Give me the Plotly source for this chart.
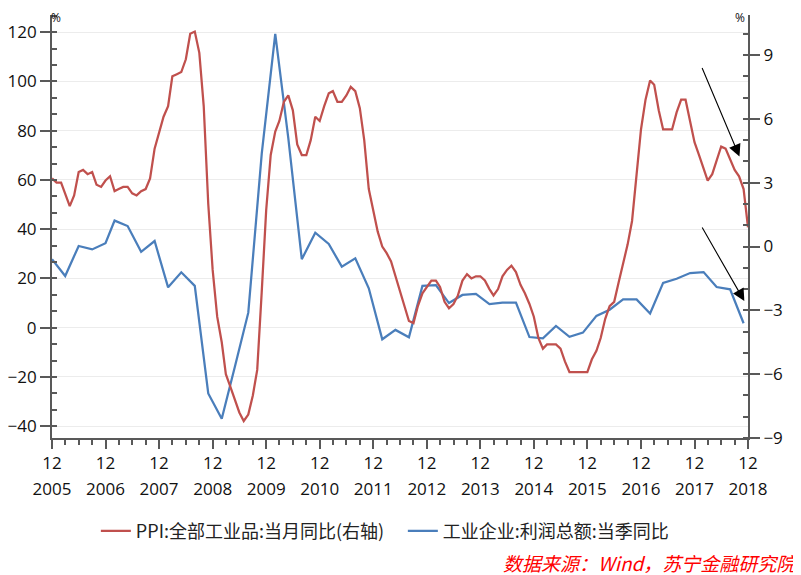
import plotly.graph_objects as go
import pandas as pd

# ---------------- data ----------------
ppi_start = "2005-12-01"
ppi_end = "2018-12-01"
ppi_months = pd.date_range(ppi_start, ppi_end, freq="MS")
ppi_values = [
    3.2,
    3.0, 3.0, 2.5, 1.9, 2.4, 3.5, 3.6, 3.4, 3.5, 2.9, 2.8, 3.1,            # 2006
    3.3, 2.6, 2.7, 2.8, 2.8, 2.5, 2.4, 2.6, 2.7, 3.2, 4.6, 5.4,            # 2007
    6.1, 6.6, 8.0, 8.1, 8.2, 8.8, 10.0, 10.1, 9.1, 6.6, 2.0, -1.1,         # 2008
    -3.3, -4.5, -6.0, -6.6, -7.2, -7.8, -8.2, -7.9, -7.0, -5.8, -2.1, 1.7, # 2009
    4.3, 5.4, 5.9, 6.8, 7.1, 6.4, 4.8, 4.3, 4.3, 5.0, 6.1, 5.9,            # 2010
    6.6, 7.2, 7.3, 6.8, 6.8, 7.1, 7.5, 7.3, 6.5, 5.0, 2.7, 1.7,            # 2011
    0.7, 0.0, -0.3, -0.7, -1.4, -2.1, -2.9, -3.5, -3.6, -2.8, -2.2, -1.9,  # 2012
    -1.6, -1.6, -1.9, -2.6, -2.9, -2.7, -2.3, -1.6, -1.3, -1.5, -1.4, -1.4,# 2013
    -1.6, -2.0, -2.3, -2.0, -1.4, -1.1, -0.9, -1.2, -1.8, -2.2, -2.7, -3.3,# 2014
    -4.3, -4.8, -4.6, -4.6, -4.6, -4.8, -5.4, -5.9, -5.9, -5.9, -5.9, -5.9,# 2015
    -5.3, -4.9, -4.3, -3.4, -2.8, -2.6, -1.7, -0.8, 0.1, 1.2, 3.3, 5.5,    # 2016
    6.9, 7.8, 7.6, 6.4, 5.5, 5.5, 5.5, 6.3, 6.9, 6.9, 5.8, 4.9,            # 2017
    4.3, 3.7, 3.1, 3.4, 4.1, 4.7, 4.6, 4.1, 3.6, 3.3, 2.7, 0.9,            # 2018
]

profit_dates = [
    "2005-12-01", "2006-03-01", "2006-06-01", "2006-09-01", "2006-12-01",
    "2007-02-01", "2007-05-01", "2007-08-01", "2007-11-01",
    "2008-02-01", "2008-05-01", "2008-08-01", "2008-11-01",
    "2009-02-01", "2009-05-01", "2009-08-01", "2009-11-01",
    "2010-02-01", "2010-05-01", "2010-08-01", "2010-11-01",
    "2011-02-01", "2011-05-01", "2011-08-01", "2011-11-01",
    "2012-02-01", "2012-05-01", "2012-08-01", "2012-11-01",
    "2013-02-01", "2013-05-01", "2013-08-01", "2013-11-01",
    "2014-02-01", "2014-05-01", "2014-08-01", "2014-11-01",
    "2015-02-01", "2015-05-01", "2015-08-01", "2015-11-01",
    "2016-02-01", "2016-05-01", "2016-08-01", "2016-11-01",
    "2017-02-01", "2017-05-01", "2017-08-01", "2017-11-01",
    "2018-02-01", "2018-05-01", "2018-08-01", "2018-11-01",
]
profit_values = [
    27.8, 21.0, 33.2, 31.8, 34.3,
    43.5, 41.3, 30.8, 35.2,
    16.4, 22.5, 17.0, -26.7,
    -37.0, -16.0, 6.1, 70.8,
    119.3, 77.0, 27.8, 38.6,
    34.0, 24.8, 28.2, 16.0,
    -4.7, -0.9, -3.9, 17.0,
    17.3, 10.0, 13.3, 13.7,
    9.6, 10.2, 10.2, -3.8,
    -4.3, 0.7, -3.7, -2.0,
    4.8, 7.3, 11.5, 11.5,
    5.8, 18.2, 19.9, 22.2,
    22.6, 16.5, 15.6, 1.8,
]

ppi_name = "PPI:全部工业品:当月同比(右轴)"
profit_name = "工业企业:利润总额:当季同比"

left_ticks = [-40, -20, 0, 20, 40, 60, 80, 100, 120]
right_ticks = [-9, -6, -3, 0, 3, 6, 9]
left_range = [-44.8, 127.0]
right_range = [-9.0, 10.88]

source_text = "数据来源：Wind，苏宁金融研究院"

# ---------------- figure ----------------
axis_color = "#595959"
tick_font = dict(family="Open Sans", size=17, color="#111111")
red = "#c0504d"
blue = "#4a7ebb"

fig = go.Figure()
fig.add_trace(go.Scatter(
    x=ppi_months, y=ppi_values, name=ppi_name, mode="lines",
    line=dict(color=red, width=2.25), xaxis="x2", yaxis="y2",
))
fig.add_trace(go.Scatter(
    x=profit_dates, y=profit_values, name=profit_name, mode="lines",
    line=dict(color=blue, width=2.25),
))

fig.update_layout(
    width=801, height=575,
    margin=dict(l=44, r=61, t=7, b=145, autoexpand=False),
    paper_bgcolor="white", plot_bgcolor="white",
    showlegend=True,
    legend=dict(
        orientation="h", x=0.063, xanchor="left", y=-0.22, yanchor="middle",
        entrywidth=262, entrywidthmode="pixels",
        font=dict(family="Noto Sans CJK SC", size=18, color="#222222"),
        bgcolor="rgba(0,0,0,0)",
    ),
    xaxis=dict(
        type="date", range=[ppi_start, ppi_end], automargin=False,
        tick0=ppi_start, dtick="M12", tickformat="%m",
        ticks="outside", ticklen=9, tickwidth=1.5, tickcolor=axis_color,
        showline=True, linecolor=axis_color, linewidth=2,
        showgrid=False, zeroline=False, tickfont=tick_font,
        minor=dict(dtick="M3", tick0=ppi_start, ticks="outside", ticklen=5,
                   tickwidth=1.5, tickcolor=axis_color, showgrid=False),
    ),
    xaxis2=dict(
        type="date", range=[ppi_start, ppi_end], overlaying="x", anchor="y2",
        side="bottom", tick0=ppi_start, dtick="M12", tickformat="%Y",
        ticks="", showline=False, showgrid=False, zeroline=False,
        tickfont=tick_font, ticklabelstandoff=39, automargin=False,
    ),
    yaxis=dict(
        range=left_range, tickvals=left_ticks, automargin=False,
        ticks="outside", ticklen=10, tickwidth=1.5, tickcolor=axis_color,
        showline=True, linecolor=axis_color, linewidth=2,
        showgrid=True, gridcolor="#ececec", gridwidth=1, zeroline=False,
        tickfont=tick_font,
        minor=dict(dtick=20 / 3, tick0=0, ticks="inside", ticklen=5,
                   tickwidth=1.5, tickcolor=axis_color, showgrid=False),
    ),
    yaxis2=dict(
        range=right_range, tickvals=right_ticks, overlaying="y", side="right",
        anchor="x2", automargin=False,
        ticks="outside", ticklen=10, tickwidth=1.5, tickcolor=axis_color,
        showline=True, linecolor=axis_color, linewidth=2,
        showgrid=False, zeroline=False, tickfont=tick_font,
        minor=dict(dtick=1, tick0=0, ticks="inside", ticklen=5,
                   tickwidth=1.5, tickcolor=axis_color, showgrid=False),
    ),
)

annotations = [
    dict(text="%", xref="paper", yref="paper", x=-0.004, y=0.995, xanchor="left",
         yanchor="middle", showarrow=False,
         font=dict(family="Open Sans", size=12, color="#111111")),
    dict(text="%", xref="paper", yref="paper", x=0.999, y=0.995, xanchor="right",
         yanchor="middle", showarrow=False,
         font=dict(family="Open Sans", size=12, color="#111111")),
    dict(text="<i>" + source_text + "</i>", xref="paper", yref="paper",
         x=1.074, y=-0.2955, xanchor="right", yanchor="middle", showarrow=False,
         font=dict(family="Noto Sans CJK SC", size=19, color="#ff0000")),
    dict(text="", xref="x", yref="y", x="2018-10-04", y=69.5, ax=-38, ay=-90,
         showarrow=True, arrowhead=2, arrowsize=2.2, arrowwidth=1.1,
         arrowcolor="#000000"),
    dict(text="", xref="x", yref="y", x="2018-11-06", y=10.8, ax=-43, ay=-75,
         showarrow=True, arrowhead=2, arrowsize=2.2, arrowwidth=1.1,
         arrowcolor="#000000"),
]
fig.update_layout(annotations=annotations)

fig.write_html("out.html")
